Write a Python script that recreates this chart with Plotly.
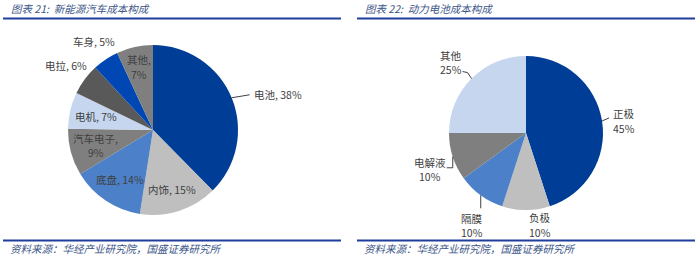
import math
import plotly.graph_objects as go

W, H = 700, 258

# ---- data ----
left_labels = ["电池", "内饰", "底盘", "汽车电子", "电机", "电拉", "车身", "其他"]
left_values = [38, 15, 14, 9, 7, 6, 5, 7]
right_labels = ["正极", "负极", "隔膜", "电解液", "其他"]
right_values = [45, 10, 10, 10, 25]
titles = ["图表 21:  新能源汽车成本构成", "图表 22:  动力电池成本构成"]
source = "资料来源：华经产业研究院，国盛证券研究所"

# ---- style ----
DARK_BLUE = "#003D97"
LGRAY = "#BFBFBF"
MBLUE = "#4C80C8"
GRAY = "#7F7F7F"
LBLUE = "#C5D6EE"
DGRAY = "#595959"
BLUE = "#0047B3"
left_colors = [DARK_BLUE, LGRAY, MBLUE, GRAY, LBLUE, DGRAY, BLUE, GRAY]
right_colors = [DARK_BLUE, LGRAY, MBLUE, GRAY, LBLUE]
NAVY = "#1F3D9B"
TXT = "#404040"
TITLE_C = "#3B5588"
FONT = "Noto Sans CJK SC"
FS = 10.5
LINE_GAP = 14.2

# pie geometry in pixels (center x, center y, radius)
LP = (153, 130, 85)
RP = (526, 133, 77)


def domain(p):
    cx, cy, r = p
    return dict(x=[(cx - r) / W, (cx + r) / W],
                y=[(H - cy - r) / H, (H - cy + r) / H])


def mid_angles(values):
    tot = sum(values)
    out, c = [], 0
    for v in values:
        out.append((c + v / 2) / tot * 2 * math.pi)
        c += v
    return out


def pt(p, ang, rf):
    cx, cy, r = p
    return cx + rf * r * math.sin(ang), cy - rf * r * math.cos(ang)


def px(x):
    return x / W


def py(y):
    return 1 - y / H


fig = go.Figure()
for p, labels, values, colors in [(LP, left_labels, left_values, left_colors),
                                  (RP, right_labels, right_values, right_colors)]:
    fig.add_trace(go.Pie(labels=labels, values=values, sort=False,
                         direction="clockwise", rotation=0,
                         marker=dict(colors=colors, line=dict(width=0)),
                         textinfo="none", hoverinfo="skip",
                         domain=domain(p), showlegend=False))

annotations = []
shapes = []


def ann(x, y, lines, xanchor="center"):
    n = len(lines)
    for k, t in enumerate(lines):
        yy = y + (k - (n - 1) / 2) * LINE_GAP
        annotations.append(dict(x=px(x), y=py(yy), xref="paper", yref="paper",
                                text=t, showarrow=False, xanchor=xanchor,
                                yanchor="middle", align="center", borderpad=0,
                                font=dict(family=FONT, size=FS, color=TXT)))


def line(pts):
    path = "M " + " L ".join(f"{px(x)},{py(y)}" for x, y in pts)
    shapes.append(dict(type="path", path=path, xref="paper", yref="paper",
                       line=dict(color=TXT, width=1)))


# left labels
l_ang = mid_angles(left_values)
l_rf = [None, 0.73, 0.70, 0.70, 0.69, 1.28, 1.25, 0.76]
l_break = [False, False, False, True, False, False, False, True]
for i, (lab, v) in enumerate(zip(left_labels, left_values)):
    lines = [f"{lab},", f"{v}%"] if l_break[i] else [f"{lab}, {v}%"]
    if l_rf[i] is None:
        ex, ey = pt(LP, l_ang[i], 1.0)
        line([(ex, ey), (ex + 18, ey - 3)])
        ann(ex + 21, ey - 3, lines, xanchor="left")
    else:
        x, y = pt(LP, l_ang[i], l_rf[i])
        ann(x, y, lines)

# right labels (offsets from slice edge point)
r_ang = mid_angles(right_values)
r_off = [(22, 0), (14, 15), (-9, 30), (-23, 13), (-21, -16)]
r_lead = [[(0, 0), (7, -3)], None, [(0, 0), (0, 13)],
          [(0, 0), (0, 11), (-6, 11)], [(0, 0), (-4, -6), (-9, -7)]]
for i, (lab, v) in enumerate(zip(right_labels, right_values)):
    ex, ey = pt(RP, r_ang[i], 1.0)
    dx, dy = r_off[i]
    ann(ex + dx, ey + dy, [lab, f"{v}%"])
    if r_lead[i]:
        line([(ex + a, ey + b) for a, b in r_lead[i]])

# titles, rules, sources
for x0, x1, t in [(3, 341, titles[0]), (357, 695, titles[1])]:
    annotations.append(dict(x=px(x0 + 6), y=py(8), xref="paper", yref="paper",
                            text=f"<i>{t}</i>", showarrow=False, xanchor="left",
                            yanchor="middle",
                            font=dict(family=FONT, size=10.5, color=TITLE_C)))
    annotations.append(dict(x=px(x0 + 5), y=py(248), xref="paper", yref="paper",
                            text=f"<i>{source}</i>", showarrow=False,
                            xanchor="left", yanchor="middle",
                            font=dict(family=FONT, size=10.5, color=TITLE_C)))
    for yy in (18.5, 240.5):
        shapes.append(dict(type="line", xref="paper", yref="paper",
                           x0=px(x0), x1=px(x1), y0=py(yy), y1=py(yy),
                           line=dict(color=NAVY, width=2)))

fig.update_layout(width=W, height=H, margin=dict(l=0, r=0, t=0, b=0),
                  paper_bgcolor="white", plot_bgcolor="white",
                  annotations=annotations, shapes=shapes)
fig.write_html("out.html")
